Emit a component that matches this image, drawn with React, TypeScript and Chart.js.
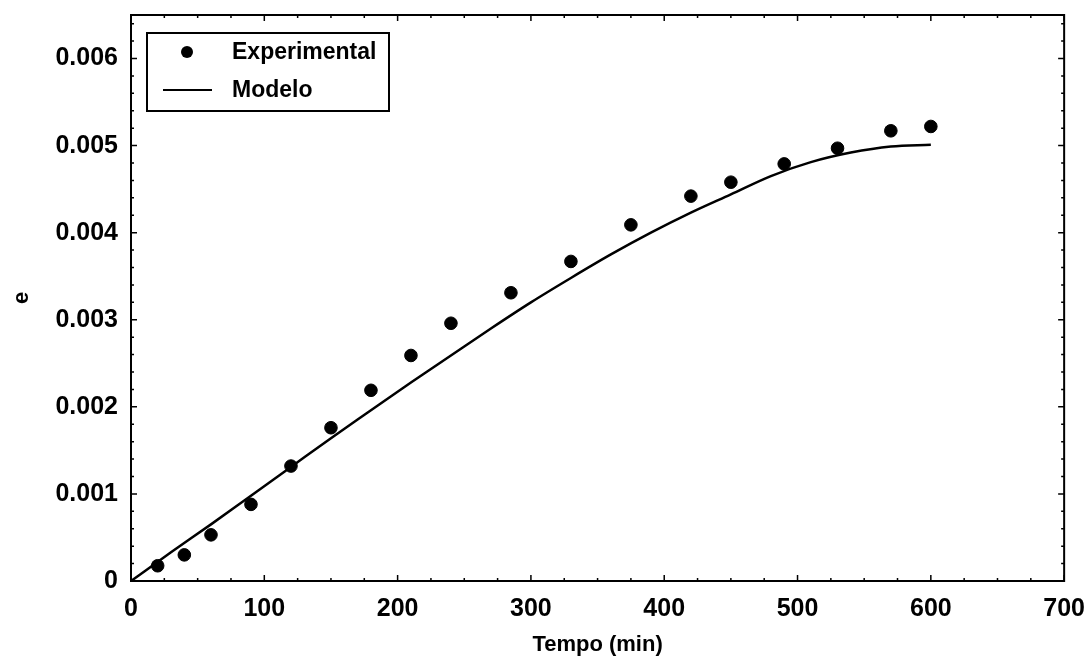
import React, { useEffect, useRef } from "react";
import { Chart, registerables } from "chart.js";

Chart.register(...registerables);

// Experimental data
const expTime = [20, 40, 60, 90, 120, 150, 180, 210, 240, 285, 330, 375, 420, 450, 490, 530, 570, 600];
const expE = [0.000175, 0.0003, 0.00053, 0.00088, 0.00132, 0.00176, 0.00219, 0.00259, 0.00296, 0.00331, 0.00367, 0.00409, 0.00442, 0.00458, 0.00479, 0.00497, 0.00517, 0.00522];

// Model curve
const modelTime = [0, 30, 60, 90, 120, 150, 180, 210, 240, 270, 300, 330, 360, 390, 420, 450, 480, 510, 540, 570, 600];
const modelE = [0, 0.00033, 0.00065, 0.00098, 0.00131, 0.00164, 0.00196, 0.00228, 0.00259, 0.0029, 0.0032, 0.00348, 0.00375, 0.004, 0.00423, 0.00444, 0.00465, 0.00481, 0.00492, 0.00499, 0.00501];

// Ticks
const xTicks = [0, 100, 200, 300, 400, 500, 600, 700];
const xTickLabels = ["0", "100", "200", "300", "400", "500", "600", "700"];
const yTicks = [0, 0.001, 0.002, 0.003, 0.004, 0.005, 0.006];
const yTickLabels = ["0", "0.001", "0.002", "0.003", "0.004", "0.005", "0.006"];
const xMinorStep = 25;
const yMinorStep = 0.0002;
const xMax = 700;
const yMax = 0.0065;

const seriesLabels = ["Experimental", "Modelo"];

const FONT = "'Liberation Sans', Arial, sans-serif";

const framePlugin = {
  id: "frame",
  afterDraw(chart: any) {
    const { ctx, chartArea: a, scales } = chart;
    const xs = scales.x;
    const ys = scales.y;
    ctx.save();
    ctx.strokeStyle = "#000";
    ctx.lineWidth = 2;
    ctx.strokeRect(a.left, a.top, a.right - a.left, a.bottom - a.top);
    ctx.lineWidth = 1.5;
    ctx.beginPath();
    for (let v = 0; v <= xMax + 1e-9; v += xMinorStep) {
      const px = xs.getPixelForValue(v);
      const major = Math.abs(v % 100) < 1e-9;
      const len = major ? 6 : 3;
      ctx.moveTo(px, a.bottom);
      ctx.lineTo(px, a.bottom - len);
      ctx.moveTo(px, a.top);
      ctx.lineTo(px, a.top + len);
    }
    for (let i = 0; i * yMinorStep <= yMax + 1e-12; i++) {
      const v = i * yMinorStep;
      const py = ys.getPixelForValue(v);
      const major = i % 5 === 0;
      const len = major ? 6 : 3;
      ctx.moveTo(a.left, py);
      ctx.lineTo(a.left + len, py);
      ctx.moveTo(a.right, py);
      ctx.lineTo(a.right - len, py);
    }
    ctx.stroke();

    // legend
    const bx = a.left + 16;
    const by = a.top + 18;
    const bw = 242;
    const bh = 78;
    ctx.fillStyle = "#fff";
    ctx.fillRect(bx, by, bw, bh);
    ctx.lineWidth = 2;
    ctx.strokeRect(bx, by, bw, bh);
    ctx.fillStyle = "#000";
    ctx.beginPath();
    ctx.arc(bx + 40, by + 19, 6, 0, Math.PI * 2);
    ctx.fill();
    ctx.lineWidth = 2;
    ctx.beginPath();
    ctx.moveTo(bx + 16, by + 57);
    ctx.lineTo(bx + 65, by + 57);
    ctx.stroke();
    ctx.font = `bold 23px ${FONT}`;
    ctx.textBaseline = "middle";
    ctx.textAlign = "left";
    ctx.fillText(seriesLabels[0], bx + 85, by + 20);
    ctx.fillText(seriesLabels[1], bx + 85, by + 58);
    ctx.restore();
  },
};

export default function App() {
  const ref = useRef<HTMLCanvasElement>(null);
  useEffect(() => {
    if (!ref.current) return;
    const chart = new Chart(ref.current, {
      type: "scatter",
      data: {
        datasets: [
          {
            label: seriesLabels[0],
            data: expTime.map((t, i) => ({ x: t, y: expE[i] })),
            backgroundColor: "#000",
            borderColor: "#000",
            pointRadius: 6.3,
            pointHoverRadius: 6.3,
            showLine: false,
          },
          {
            label: seriesLabels[1],
            data: modelTime.map((t, i) => ({ x: t, y: modelE[i] })),
            borderColor: "#000",
            backgroundColor: "#000",
            borderWidth: 2.5,
            pointRadius: 0,
            showLine: true,
            cubicInterpolationMode: "monotone",
          },
        ],
      },
      options: {
        animation: false,
        responsive: true,
        maintainAspectRatio: false,
        layout: { padding: { top: 15, right: 22, left: 0, bottom: 0 } },
        plugins: { legend: { display: false }, tooltip: { enabled: false } },
        scales: {
          x: {
            type: "linear",
            min: 0,
            max: xMax,
            grid: { display: false },
            border: { display: false },
            afterBuildTicks: (s: any) => {
              s.ticks = xTicks.map((v) => ({ value: v }));
            },
            afterFit: (s: any) => {
              s.height = 84;
            },
            ticks: {
              color: "#000",
              font: { family: FONT, size: 25, weight: "bold" },
              padding: 5,
              maxRotation: 0,
              callback: (v: any) => {
                const i = xTicks.indexOf(Number(v));
                return i >= 0 ? xTickLabels[i] : "";
              },
            },
            title: {
              display: true,
              text: "Tempo (min)",
              color: "#000",
              font: { family: FONT, size: 22, weight: "bold" },
              padding: { top: 0, bottom: 7 },
            },
          },
          y: {
            type: "linear",
            min: 0,
            max: yMax,
            grid: { display: false },
            border: { display: false },
            afterBuildTicks: (s: any) => {
              s.ticks = yTicks.map((v) => ({ value: v }));
            },
            afterFit: (s: any) => {
              s.width = 131;
              s.paddingTop = 0;
              s.paddingBottom = 0;
            },
            ticks: {
              color: "#000",
              font: { family: FONT, size: 25, weight: "bold" },
              padding: 5,
              callback: (v: any) => {
                const i = yTicks.findIndex((t) => Math.abs(t - Number(v)) < 1e-9);
                return i >= 0 ? yTickLabels[i] : "";
              },
            },
            title: {
              display: true,
              text: "e",
              color: "#000",
              font: { family: FONT, size: 22, weight: "bold" },
              padding: { top: 9, bottom: 0 },
            },
          },
        },
      },
      plugins: [framePlugin],
    });
    return () => chart.destroy();
  }, []);
  return (
    <div style={{ position: "absolute", left: 0, top: 0, width: 1090, height: 665, background: "#fff" }}>
      <canvas ref={ref} />
    </div>
  );
}
